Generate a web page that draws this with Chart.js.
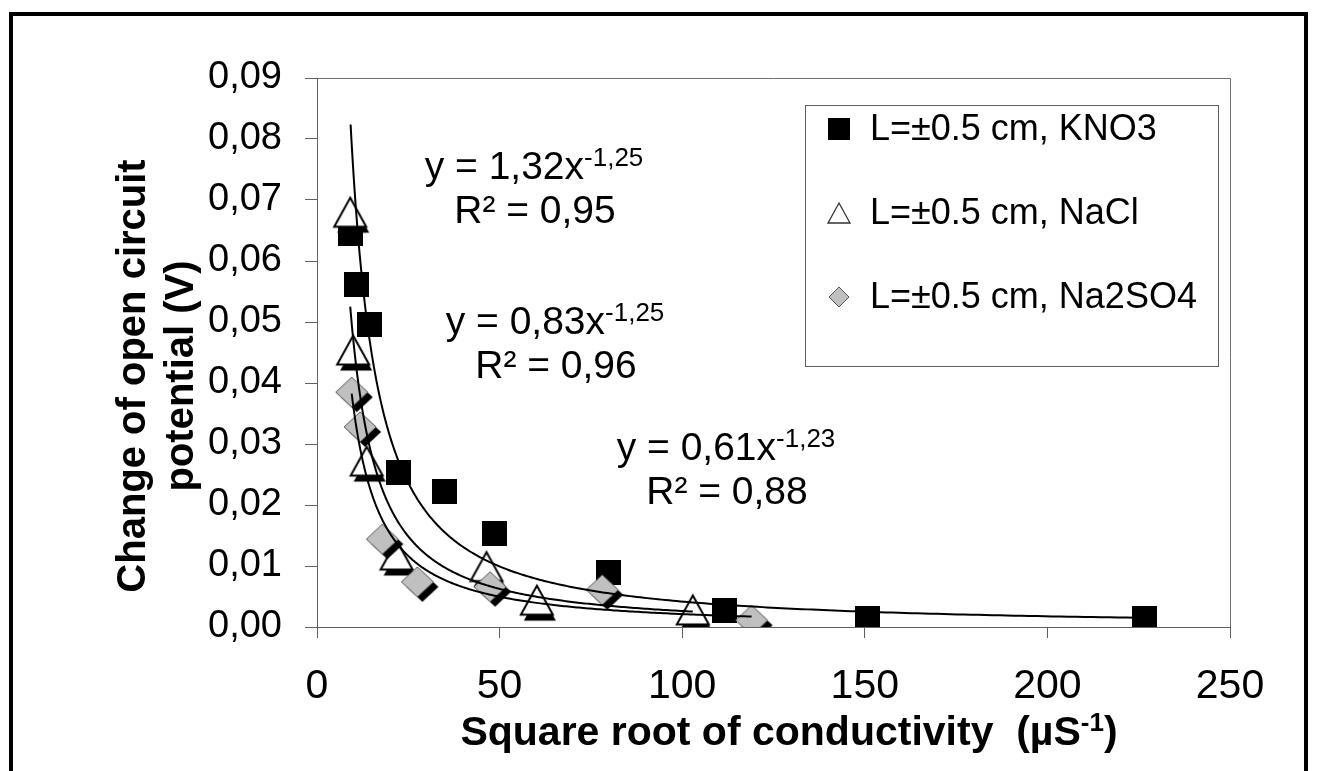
<!DOCTYPE html>
<html>
<head>
<meta charset="utf-8">
<title>Open circuit potential vs conductivity</title>
<script src="https://cdn.jsdelivr.net/npm/chart.js@4.4.0/dist/chart.umd.min.js"></script>
<style>
  html, body { margin: 0; padding: 0; background: #fff; }
  #wrap { position: relative; width: 1317px; height: 771px; }
</style>
</head>
<body>
<div id="wrap"><canvas id="myChart" width="1317" height="771"></canvas></div>
<script>
var FONT = '"Liberation Sans", Arial, sans-serif';

var seriesNames = ['L=\u00b10.5 cm, KNO3', 'L=\u00b10.5 cm, NaCl', 'L=\u00b10.5 cm, Na2SO4'];

// measured points: sqrt conductivity vs change of OCP (V)
var kno3X = [9.2, 10.7, 14.5, 22.3, 34.8, 48.5, 79.7, 111.5, 150.7, 226.5];
var kno3Y = [0.0645, 0.0562, 0.0496, 0.0253, 0.0222, 0.0153, 0.0089, 0.0027, 0.0014, 0.0014];

var naclX = [9.1, 9.9, 13.6, 21.8, 46.4, 60.2, 102.9];
var naclY = [0.0680, 0.0454, 0.0272, 0.0118, 0.0099, 0.0044, 0.0028];

var na2so4X = [9.5, 11.8, 17.9, 27.5, 47.4, 78.1, 119.0];
var na2so4Y = [0.0385, 0.0328, 0.0144, 0.0074, 0.0066, 0.0061, 0.0011];

// power trendlines y = a * x^b
var fitCoef = [1.32, 0.83, 0.61];
var fitExp = [-1.25, -1.25, -1.23];
var fitR2 = ['0,95', '0,96', '0,88'];

var xTicks = [0, 50, 100, 150, 200, 250];
var yTicks = [0, 0.01, 0.02, 0.03, 0.04, 0.05, 0.06, 0.07, 0.08, 0.09];

var allX = [kno3X, naclX, na2so4X];

function toPoints(xs, ys) {
	var pts = [];
	for (var i = 0; i < xs.length; i++) {
		pts.push({ x: xs[i], y: ys[i] });
	}
	return pts;
}

function comma(v) {
	return v.toFixed(2).replace('.', ',');
}

// marker sprites (with the drop shadow used on the plot)
function makeSquare(size) {
	var c = document.createElement('canvas');
	c.width = size; c.height = size;
	var g = c.getContext('2d');
	g.fillStyle = '#000';
	g.fillRect(0, 0, size, size);
	return c;
}

function triPath(g, cx, cy, hw, hh) {
	g.beginPath();
	g.moveTo(cx, cy - hh);
	g.lineTo(cx + hw, cy + hh);
	g.lineTo(cx - hw, cy + hh);
	g.closePath();
}

function makeTriangle(hw, hh, shadow) {
	var c = document.createElement('canvas');
	c.width = 48; c.height = 48;
	var g = c.getContext('2d');
	if (shadow) {
		triPath(g, 24 + 3, 24 + 6, hw, hh);
		g.fillStyle = '#000';
		g.fill();
	}
	triPath(g, 24, 24, hw, hh);
	g.fillStyle = '#fff';
	g.fill();
	g.lineWidth = shadow ? 2 : 1.3;
	g.strokeStyle = shadow ? '#000' : '#333';
	g.stroke();
	return c;
}

function diaPath(g, cx, cy, hw, hh) {
	g.beginPath();
	g.moveTo(cx, cy - hh);
	g.lineTo(cx + hw, cy);
	g.lineTo(cx, cy + hh);
	g.lineTo(cx - hw, cy);
	g.closePath();
}

function makeDiamond(hw, hh, shadow) {
	var c = document.createElement('canvas');
	c.width = 48; c.height = 48;
	var g = c.getContext('2d');
	if (shadow) {
		diaPath(g, 24 + 5, 24 + 5, hw, hh);
		g.fillStyle = '#000';
		g.fill();
	}
	diaPath(g, 24, 24, hw, hh);
	g.fillStyle = '#c0c0c0';
	g.fill();
	g.lineWidth = 1;
	g.strokeStyle = '#555';
	g.stroke();
	return c;
}

var markerSprites = [makeSquare(25), makeTriangle(16, 14.5, true), makeDiamond(16, 15, true)];
var legendSprites = [makeSquare(22), makeTriangle(11, 10, false), makeDiamond(10, 10, false)];

// frame, plot border, trendlines, equations, legend and axis titles
var decorations = {
	id: 'decorations',
	beforeDraw: function(chart) {
		var ctx = chart.ctx;
		ctx.save();
		ctx.fillStyle = '#000';
		ctx.fillRect(9, 12, 1299, 4);
		ctx.fillRect(9, 12, 4, 771);
		ctx.fillRect(1304, 12, 4, 771);
		ctx.restore();
	},
	afterDatasetsDraw: function(chart) {
		var ctx = chart.ctx;
		var xs = chart.scales.x, ys = chart.scales.y;
		var area = chart.chartArea;

		ctx.save();
		ctx.beginPath();
		ctx.rect(area.left, area.top, area.right - area.left, area.bottom - area.top);
		ctx.clip();
		ctx.strokeStyle = '#000';
		ctx.lineWidth = 2;
		for (var s = 0; s < 3; s++) {
			var lo = Math.min.apply(null, allX[s]);
			var hi = Math.max.apply(null, allX[s]);
			ctx.beginPath();
			for (var k = 0; k <= 300; k++) {
				var xv = lo * Math.pow(hi / lo, k / 300);
				var yv = fitCoef[s] * Math.pow(xv, fitExp[s]);
				var px = xs.getPixelForValue(xv), py = ys.getPixelForValue(yv);
				if (k === 0) ctx.moveTo(px, py); else ctx.lineTo(px, py);
			}
			ctx.stroke();
		}
		ctx.restore();

		ctx.save();
		// plot area border (top and right)
		ctx.strokeStyle = '#707070';
		ctx.lineWidth = 1;
		ctx.beginPath();
		ctx.moveTo(area.left, area.top + 0.5);
		ctx.lineTo(area.right + 0.5, area.top + 0.5);
		ctx.lineTo(area.right + 0.5, area.bottom);
		ctx.stroke();

		// trendline equations
		var eqCenter = [534, 555, 726];
		var eqBase = [179, 334, 460];
		ctx.fillStyle = '#000';
		ctx.textBaseline = 'alphabetic';
		for (var e = 0; e < 3; e++) {
			var main = 'y = ' + comma(fitCoef[e]) + 'x';
			var sup = comma(fitExp[e]);
			ctx.font = '39px ' + FONT;
			var mw = ctx.measureText(main).width;
			ctx.font = '26px ' + FONT;
			var sw = ctx.measureText(sup).width;
			var x0 = eqCenter[e] - (mw + sw) / 2;
			ctx.textAlign = 'left';
			ctx.font = '39px ' + FONT;
			ctx.fillText(main, x0, eqBase[e]);
			ctx.font = '26px ' + FONT;
			ctx.fillText(sup, x0 + mw, eqBase[e] - 13);
			ctx.font = '39px ' + FONT;
			ctx.textAlign = 'center';
			ctx.fillText('R\u00b2 = ' + fitR2[e], eqCenter[e] + 1, eqBase[e] + 44);
		}

		// legend box
		ctx.fillStyle = '#fff';
		ctx.fillRect(805, 105, 413, 261);
		ctx.strokeStyle = '#606060';
		ctx.strokeRect(805.5, 105.5, 413, 261);
		var rowY = [129, 213, 297];
		ctx.font = '36px ' + FONT;
		ctx.textAlign = 'left';
		ctx.textBaseline = 'middle';
		ctx.fillStyle = '#000';
		for (var r = 0; r < 3; r++) {
			var sp = legendSprites[r];
			ctx.drawImage(sp, 839 - sp.width / 2, rowY[r] - sp.height / 2);
			ctx.fillText(seriesNames[r], 870, rowY[r] + 1);
		}

		// y axis title, two lines rotated
		ctx.font = 'bold 40px ' + FONT;
		ctx.textAlign = 'center';
		ctx.textBaseline = 'alphabetic';
		var yTitle = ['Change of open circuit', 'potential (V)'];
		var yBase = [145, 193];
		for (var t = 0; t < 2; t++) {
			ctx.save();
			ctx.translate(yBase[t], 376);
			ctx.rotate(-Math.PI / 2);
			ctx.fillText(yTitle[t], 0, 0);
			ctx.restore();
		}

		// x axis title with superscript
		var xt1 = 'Square root of conductivity  (\u00b5S';
		var xt2 = '-1';
		var xt3 = ')';
		ctx.font = 'bold 41px ' + FONT;
		var w1 = ctx.measureText(xt1).width;
		var w3 = ctx.measureText(xt3).width;
		ctx.font = 'bold 26px ' + FONT;
		var w2 = ctx.measureText(xt2).width;
		var tx = 789 - (w1 + w2 + w3) / 2;
		ctx.textAlign = 'left';
		ctx.font = 'bold 41px ' + FONT;
		ctx.fillText(xt1, tx, 745);
		ctx.font = 'bold 26px ' + FONT;
		ctx.fillText(xt2, tx + w1, 731);
		ctx.font = 'bold 41px ' + FONT;
		ctx.fillText(xt3, tx + w1 + w2, 745);
		ctx.restore();
	}
};

var chartConfig = {
	type: 'scatter',
	data: {
		datasets: [
			{ label: seriesNames[0], data: toPoints(kno3X, kno3Y), pointStyle: markerSprites[0], order: 3 },
			{ label: seriesNames[1], data: toPoints(naclX, naclY), pointStyle: markerSprites[1], order: 2 },
			{ label: seriesNames[2], data: toPoints(na2so4X, na2so4Y), pointStyle: markerSprites[2], order: 1 }
		]
	},
	options: {
		responsive: false,
		animation: false,
		events: [],
		layout: { padding: { left: 0, top: 78, right: 87, bottom: 0 } },
		plugins: {
			legend: { display: false },
			tooltip: { enabled: false }
		},
		scales: {
			x: {
				type: 'linear',
				min: 0,
				max: 250,
				afterFit: function(scale) { scale.height = 144; },
				afterBuildTicks: function(scale) {
					scale.ticks = xTicks.map(function(v) { return { value: v }; });
				},
				grid: { display: true, drawOnChartArea: false, drawTicks: true, tickLength: 11, color: '#606060' },
				border: { display: true, color: '#606060', width: 1 },
				ticks: {
					color: '#000',
					padding: 24,
					maxRotation: 0,
					font: { family: FONT, size: 41 },
					callback: function(v) { return String(v); }
				}
			},
			y: {
				type: 'linear',
				min: 0,
				max: 0.09,
				afterFit: function(scale) { scale.width = 317; },
				afterBuildTicks: function(scale) {
					scale.ticks = yTicks.map(function(v) { return { value: v }; });
				},
				grid: { display: true, drawOnChartArea: false, drawTicks: true, tickLength: 12, color: '#606060' },
				border: { display: true, color: '#606060', width: 1 },
				ticks: {
					color: '#000',
					padding: 23,
					font: { family: FONT, size: 38 },
					callback: function(v) { return comma(v); }
				}
			}
		}
	},
	plugins: [decorations]
};

var ctx = document.getElementById('myChart').getContext('2d');
var myChart = new Chart(ctx, chartConfig);
</script>
</body>
</html>
